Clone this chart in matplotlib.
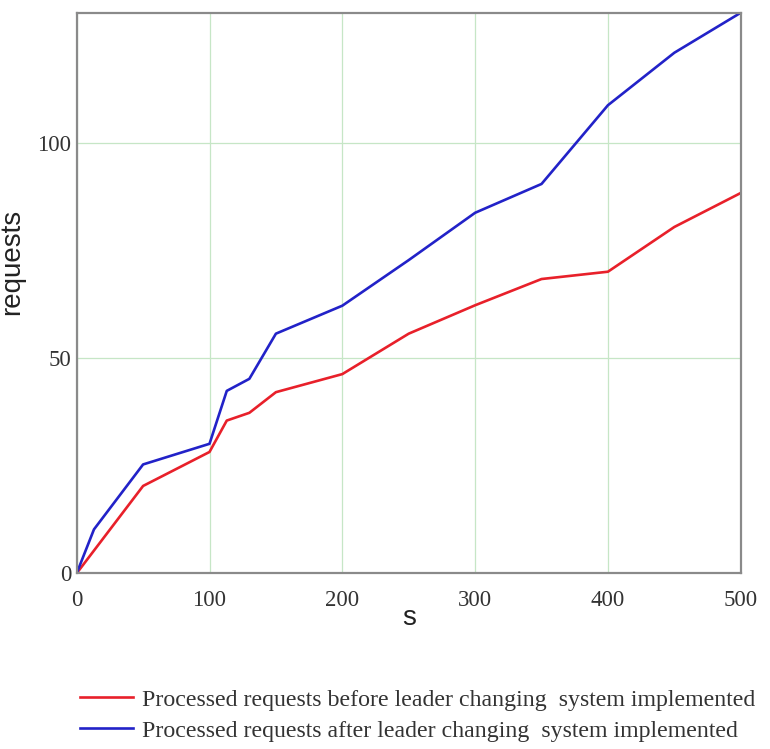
import numpy as np
import matplotlib
matplotlib.use('Agg')
import matplotlib.pyplot as plt

# time (s) and processed request counts
t_before = [0, 50, 100, 113, 130, 150, 200, 250, 300, 350, 400, 450, 500]
req_before = [0, 20.3, 28.2, 35.5, 37.3, 42.1, 46.3, 55.7, 62.3, 68.4, 70.1, 80.5, 88.4]

t_after = [0, 13, 50, 100, 113, 130, 150, 200, 250, 300, 350, 400, 450, 500]
req_after = [0, 10.2, 25.3, 30.1, 42.4, 45.2, 55.7, 62.2, 72.8, 83.8, 90.5, 108.8, 121.0, 130.3]

xticks = [0, 100, 200, 300, 400, 500]
yticks = [0, 50, 100]

label_before = 'Processed requests before leader changing  system implemented'
label_after = 'Processed requests after leader changing  system implemented'

serif = ['Liberation Serif', 'DejaVu Serif']
sans = ['Liberation Sans', 'DejaVu Sans']

fig = plt.figure(figsize=(7.7, 7.49), dpi=100)
ax = fig.add_axes([0.0996, 0.2346, 0.8624, 0.7484])

red, = ax.plot(t_before, req_before, color='#e8202a', lw=1.9, label=label_before)
blue, = ax.plot(t_after, req_after, color='#2222c8', lw=1.9, label=label_after)

ax.set_xlim(0, 500)
ax.set_ylim(0, max(req_after))
ax.set_xticks(xticks)
ax.set_yticks(yticks)
ax.grid(True, color='#c6e6c6', lw=0.9)
ax.set_axisbelow(True)
ax.tick_params(length=0, labelsize=16.5, labelcolor='#333333')
ax.tick_params(axis='x', pad=12)
ax.tick_params(axis='y', pad=4)
for lab in ax.get_xticklabels() + ax.get_yticklabels():
    lab.set_family(serif)
for sp in ax.spines.values():
    sp.set_color('#8a8a8a')
    sp.set_linewidth(1.6)

ax.set_xlabel('s', family=sans, fontsize=20, labelpad=-4, color='#222222')
ax.set_ylabel('requests', family=sans, fontsize=20, color='#222222')
ax.yaxis.set_label_coords(-0.078, 0.555)

fig.legend(handles=[red, blue], loc='upper left', bbox_to_anchor=(0.104, 0.080),
           frameon=False, prop={'family': serif, 'size': 17.2},
           handlelength=2.2, handletextpad=0.4, labelspacing=0.38,
           borderaxespad=0, borderpad=0, labelcolor='#333333')

fig.savefig('out.png', dpi=100)
